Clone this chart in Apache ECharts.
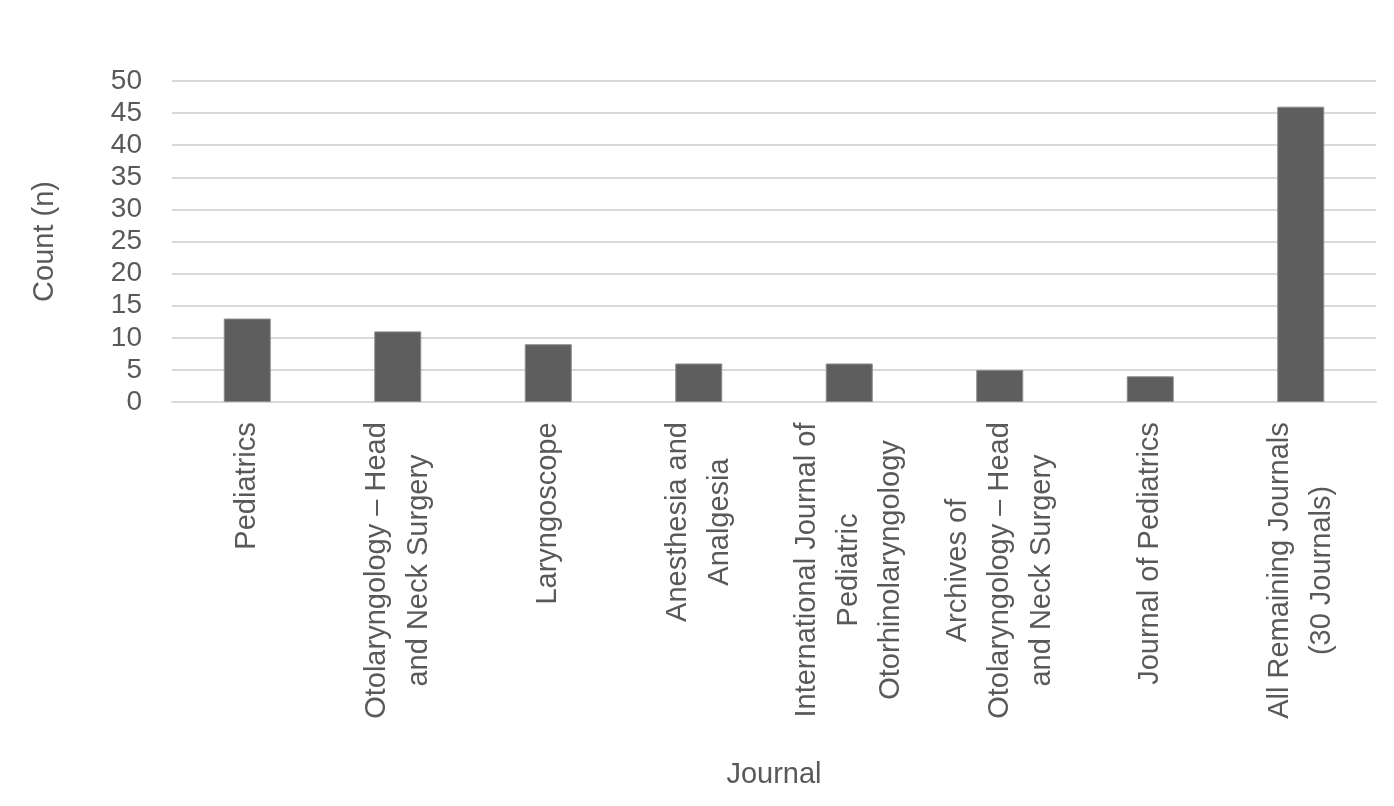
<!DOCTYPE html>
<html>
<head>
<meta charset="utf-8">
<script src="https://cdn.jsdelivr.net/npm/echarts@6/dist/echarts.min.js"></script>
<style>
html,body{margin:0;padding:0;background:#fff;}
#chart{width:1394px;height:806px;}
</style>
</head>
<body>
<div id="chart"></div>
<script>
const categories = [
  "Pediatrics",
  "Otolaryngology – Head\nand Neck Surgery",
  "Laryngoscope",
  "Anesthesia and\nAnalgesia",
  "International Journal of\nPediatric\nOtorhinolaryngology",
  "Archives of\nOtolaryngology – Head\nand Neck Surgery",
  "Journal of Pediatrics",
  "All Remaining Journals\n(30 Journals)"
];
const counts = [13, 11, 9, 6, 6, 5, 4, 46];
const yTicks = { min: 0, max: 50, interval: 5 };

const FONT = '"Liberation Sans", Arial, sans-serif';
const XFS = 29;
const ctx = document.createElement('canvas').getContext('2d');
ctx.font = XFS + 'px ' + FONT;
const rich = {};
categories.forEach((c, i) => {
  const w = Math.max(...c.split('\n').map(l => ctx.measureText(l).width));
  rich['r' + i] = { width: Math.ceil(w), align: 'center', fontSize: XFS, fontFamily: FONT, color: '#595959', lineHeight: 42 };
});

const chart = echarts.init(document.getElementById('chart'));
chart.setOption({
  animation: false,
  grid: { left: 172, right: 18, top: 81, bottom: 404, containLabel: false },
  xAxis: {
    type: 'category',
    data: categories,
    name: 'Journal',
    nameLocation: 'middle',
    nameGap: 358,
    nameTextStyle: { fontSize: 29, fontFamily: FONT, color: '#595959' },
    axisLine: { show: true, lineStyle: { color: '#d9d9d9', width: 2 } },
    axisTick: { show: false },
    axisLabel: {
      interval: 0,
      rotate: 90,
      margin: 20,
      fontSize: XFS,
      fontFamily: FONT,
      color: '#595959',
      lineHeight: 42,
      rich: rich,
      formatter: function (v, idx) {
        return v.split('\n').map(l => '{r' + idx + '|' + l + '}').join('\n');
      }
    }
  },
  yAxis: {
    type: 'value',
    min: yTicks.min,
    max: yTicks.max,
    interval: yTicks.interval,
    name: 'Count (n)',
    nameLocation: 'middle',
    nameGap: 113,
    nameRotate: 90,
    nameTextStyle: { fontSize: 29, fontFamily: FONT, color: '#595959' },
    axisLine: { show: false },
    axisTick: { show: false },
    axisLabel: { fontSize: 28, fontFamily: FONT, color: '#595959', margin: 30 },
    splitLine: { lineStyle: { color: '#d9d9d9', width: 2 } }
  },
  series: [{
    type: 'bar',
    data: counts,
    barWidth: 47,
    itemStyle: { color: '#5e5e5e', borderColor: '#8c8c8c', borderWidth: 1 }
  }]
});
</script>
</body>
</html>
